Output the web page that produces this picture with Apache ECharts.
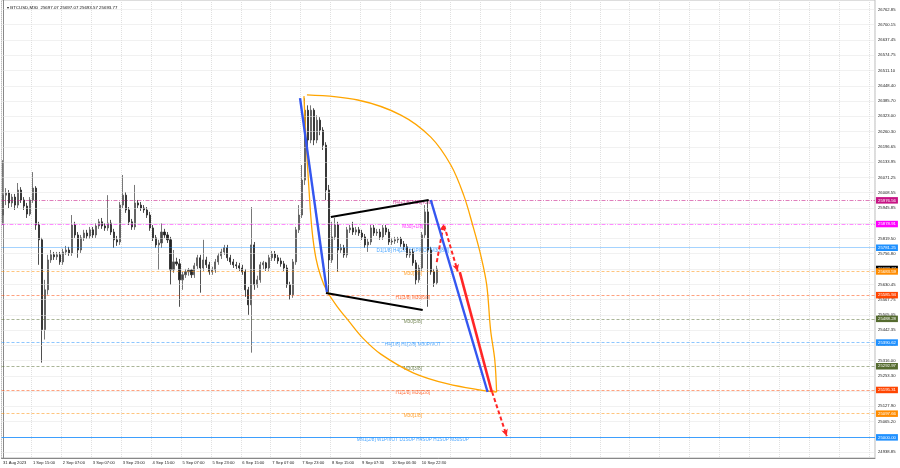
<!DOCTYPE html>
<html><head><meta charset="utf-8">
<script src="https://cdn.jsdelivr.net/npm/echarts@6/dist/echarts.min.js"></script>
<style>html,body{margin:0;padding:0;background:#fff}#c{width:900px;height:468px}</style>
</head><body><div id="c"></div>
<script>
// ---------------- DATA ----------------
const titleText = 'BTCUSD,M30  25697.07 25697.07 25693.57 25693.77';
const xLabels = ['31 Aug 2023','1 Sep 15:00','2 Sep 07:00','3 Sep 07:00','3 Sep 23:00','4 Sep 15:00','5 Sep 07:00','5 Sep 23:00','6 Sep 15:00','7 Sep 07:00','7 Sep 23:00','8 Sep 15:00','9 Sep 07:30','10 Sep 06:30','10 Sep 22:30'];
const yTicks = [26762.85,26700.15,26637.45,26574.75,26511.10,26448.40,26385.70,26323.00,26260.30,26196.65,26133.95,26071.25,26008.55,25945.85,25882.20,25819.50,25756.80,25694.10,25630.45,25567.75,25505.05,25442.35,25379.65,25316.00,25253.30,25190.60,25127.90,25065.20,25002.50,24938.85];

const candleOpen = [
25916,25998,26007,25966,25990,25957,26019,25978,25953,25920,
25978,26027,25875,25814,25444,25608,25731,25752,25744,25752,
25723,25764,25772,25760,25875,25834,25772,25822,25842,25830,
25855,25834,25871,25888,25871,25863,25883,25846,25814,25805,
25957,25998,25937,25888,25867,25966,25957,25945,25937,25916,
25863,25822,25793,25801,25846,25834,25814,25690,25723,25715,
25649,25670,25682,25690,25670,25707,25740,25698,25731,25711,
25682,25690,25723,25748,25764,25781,25740,25723,25711,25707,
25698,25682,25608,25546,25793,25629,25649,25711,25719,25698,
25740,25756,25740,25727,25715,25698,25629,25588,25723,25855,
25916,26060,26348,26225,26348,26225,26307,26266,26204,26019,
25731,25826,25875,25772,25781,25752,25855,25863,25846,25855,
25842,25826,25793,25805,25863,25842,25846,25826,25863,25846,
25805,25809,25814,25818,25797,25785,25752,25764,25719,25649,
25698,25834,25929,25772,25682,25637];
const candleClose = [
25998,26007,25966,25990,25957,26019,25978,25953,25920,25978,
26027,25875,25814,25444,25608,25731,25752,25744,25752,25723,
25764,25772,25760,25875,25834,25772,25822,25842,25830,25855,
25834,25871,25888,25871,25863,25883,25846,25814,25805,25957,
25998,25937,25888,25867,25966,25957,25945,25937,25916,25863,
25822,25793,25801,25846,25834,25814,25690,25723,25715,25649,
25670,25682,25690,25670,25707,25740,25698,25731,25711,25682,
25690,25723,25748,25764,25781,25740,25723,25711,25707,25698,
25682,25608,25546,25793,25629,25649,25711,25719,25698,25740,
25756,25740,25727,25715,25698,25629,25588,25723,25855,25916,
26060,26348,26225,26348,26225,26307,26266,26204,26019,25731,
25826,25875,25772,25781,25752,25855,25863,25846,25855,25842,
25826,25793,25805,25863,25842,25846,25826,25863,25846,25805,
25809,25814,25818,25797,25785,25752,25764,25719,25649,25698,
25834,25929,25772,25682,25637,25693.77];
const candleLow = [
25875,25957,25945,25949,25937,25945,25966,25937,25904,25912,
25966,25855,25711,25308,25403,25588,25719,25731,25731,25711,
25711,25752,25748,25748,25822,25740,25760,25809,25818,25818,
25822,25822,25859,25859,25851,25851,25834,25781,25789,25793,
25945,25925,25875,25855,25855,25945,25933,25925,25904,25851,
25809,25781,25690,25781,25822,25801,25629,25678,25707,25538,
25608,25657,25666,25657,25657,25694,25596,25686,25698,25670,
25670,25678,25711,25735,25752,25727,25711,25698,25694,25686,
25670,25579,25505,25349,25608,25616,25637,25694,25686,25686,
25727,25727,25715,25703,25686,25616,25567,25575,25711,25842,
25904,26040,26184,26212,26204,26212,26245,26184,25978,25596,
25719,25814,25682,25760,25740,25740,25842,25834,25834,25830,
25814,25781,25764,25793,25830,25830,25814,25814,25834,25793,
25793,25797,25801,25785,25772,25740,25740,25707,25629,25637,
25686,25822,25538,25670,25620,25629];
const candleHigh = [
26142,26027,26019,26003,26003,26048,26031,25990,25966,25990,
26093,26035,25888,25822,25649,25752,25772,25764,25764,25764,
25777,25789,25785,25916,25888,25846,25834,25855,25855,25867,
25867,25883,25900,25904,25883,25998,25896,25859,25830,25970,
26081,26011,25949,25900,26040,25978,25970,25957,25949,25929,
25875,25834,25814,25883,25859,25846,25826,25772,25740,25735,
25682,25694,25698,25694,25719,25752,25752,25814,25744,25723,
25703,25735,25760,25777,25793,25793,25752,25735,25723,25719,
25711,25694,25620,25949,25805,25666,25723,25727,25723,25752,
25768,25768,25752,25740,25727,25711,25641,25735,25867,25957,
26122,26397,26368,26368,26356,26327,26319,26278,26216,26040,
25888,25904,25888,25797,25793,25867,25875,25888,25867,25867,
25855,25838,25818,25875,25875,25859,25859,25875,25875,25859,
25822,25826,25826,25826,25809,25797,25777,25777,25731,25711,
25846,25957,25978,25785,25694,25707];

const currentPrice = 25693.77;
const levelValues = [25976.56,25878.91,25781.25,25683.59,25585.94,25488.28,25390.62,25292.97,25195.31,25097.66,25000.00];
const levelCaptions = ['H4[+1/8] M30[+2/8]','M30[+1/8]','D1[1/8] H4[2/8] H1PIVOT M30[8/8]','M30[7/8]','H1[3/8] M30[6/8]','M30[5/8]','H4[1/8] H1[2/8] M30PIVOT','M30[3/8]','H1[1/8] M30[2/8]','M30[1/8]','MN1[2/8] W1PIVOT D1SUP H4SUP H1SUP M30SUP'];

// drawing anchor points: [bar index, price]
const arcUpper = [[101.6,26411],[118.6,26390],[133.0,26328],[143.0,26237],[149.7,26122],[154.0,25998],[157.0,25875],[159.7,25751],[161.7,25628],[163.0,25442],[164.4,25319],[165.0,25187]];
const arcLower = [[100.6,26406],[101.3,26225],[102.3,26019],[103.3,25854],[104.6,25739],[106.3,25661],[108.3,25603],[111.6,25541],[115.6,25479],[120.3,25409],[126.3,25343],[137.3,25265],[148.7,25220],[159.7,25195],[165.0,25187]];
const blueLine1 = [[99.3,26398],[108.3,25599]];
const blueLine2 = [[143.0,25978],[162.0,25187]];
const channelTop = [[109.6,25908],[142.3,25978]];
const channelBottom = [[107.96,25595],[140.3,25525]];
const redLine = [[152.7,25681],[163.4,25187]];
const arrowUp = [[145.0,25722],[147.3,25878]];
const arrowDown = [[147.5,25872],[152.0,25684]];
const arrowTarget = [[163.5,25187],[168.4,25005]];

// ---------------- STYLE / LAYOUT ----------------
const N_SLOTS = 292;
const Y_MAX = 26802, Y_MIN = 24915;
const CAPTION_AT = 137;
const FONT = 'Liberation Sans';
const LEVEL_STYLE = [
  {c:'#c71585', l:'rgba(199,21,133,0.55)', t:[4,1.5,1,1.5], w:1},
  {c:'#ff00ff', l:'rgba(255,0,255,0.45)', t:[4,1.5,1,1.5], w:1},
  {c:'#1e90ff', l:'rgba(30,144,255,0.4)', t:'solid', w:1},
  {c:'#ff8c00', l:'rgba(255,140,0,0.5)', t:[3,2], w:1},
  {c:'#ff4500', l:'rgba(255,69,0,0.5)', t:[3,2], w:1},
  {c:'#556b2f', l:'rgba(85,107,47,0.5)', t:[3,2], w:1},
  {c:'#1e90ff', l:'rgba(30,144,255,0.5)', t:[3,2], w:1},
  {c:'#556b2f', l:'rgba(85,107,47,0.5)', t:[3,2], w:1},
  {c:'#ff4500', l:'rgba(255,69,0,0.5)', t:[3,2], w:1},
  {c:'#ff8c00', l:'rgba(255,140,0,0.5)', t:[3,2], w:1},
  {c:'#1e90ff', l:'rgba(30,144,255,0.85)', t:'solid', w:1.2}
];

const cats = Array.from({length: N_SLOTS}, (_, i) => String(i));
const candles = candleOpen.map((o, i) => [o, candleClose[i], candleLow[i], candleHigh[i]]);

const boxLabel = (bg) => ({show:true, position:'end', distance:1, color:'#fff', backgroundColor:bg, fontSize:4.3, fontFamily:FONT, padding:[1.5,2,1,2]});

const levelMarks = levelValues.map((v, i) => ({
  yAxis: v,
  lineStyle: {color: LEVEL_STYLE[i].l, type: LEVEL_STYLE[i].t, width: LEVEL_STYLE[i].w},
  label: Object.assign(boxLabel(LEVEL_STYLE[i].c), {formatter: v.toFixed(2)})
}));

const lineSeries = (data, color, width, extra) => Object.assign({
  type:'line', xAxisIndex:1, data, symbol:'none', silent:true, z:5,
  lineStyle:{color, width}
}, extra || {});

const arrowMark = (pts) => [{coord: pts[0]}, {coord: pts[1]}];

const option = {
  animation: false,
  backgroundColor: '#ffffff',
  textStyle: {fontFamily: FONT},
  title: {text: '\u25BE ' + titleText, left: 2, top: 1, textStyle: {fontSize: 4.4, fontWeight: 'normal', color: '#111', fontFamily: FONT}},
  grid: {left: 0, right: 25, top: 0, bottom: 10, show: true, borderColor: '#bbb', borderWidth: 1},
  xAxis: [
    {type:'category', data: cats, boundaryGap: true,
     axisLine:{lineStyle:{color:'#888'}}, axisTick:{show:false},
     axisLabel:{interval:(i) => i % 10 === 0 && i / 10 < xLabels.length,
       formatter:(v) => xLabels[Number(v) / 10] || '', align:'left', fontSize:4.1, margin:3, color:'#222', fontFamily:FONT},
     splitLine:{show:true, interval:(i) => i % 10 === 0, lineStyle:{color:'#e0e0e0', type:[1,1], width:1}}},
    {type:'value', min:-0.5, max:N_SLOTS - 0.5, show:false}
  ],
  yAxis: {type:'value', position:'right', min:Y_MIN, max:Y_MAX,
    splitLine:{show:false}, axisTick:{show:false},
    axisLine:{show:true, lineStyle:{color:'#888'}},
    axisLabel:{customValues: yTicks, formatter:(v) => v.toFixed(2), fontSize:4.2, margin:3, color:'#222', fontFamily:FONT}},
  series: [
    {type:'line', xAxisIndex:1, data:[], silent:true, z:0,
     markLine:{silent:true, symbol:'none', animation:false, label:{show:false},
       lineStyle:{color:'#e2e2e2', type:[1,1], width:1},
       data: yTicks.map(v => ({yAxis: v}))}},
    {type:'line', xAxisIndex:1, data:[], silent:true, z:1,
     markLine:{silent:true, symbol:'none', animation:false,
       data: [{yAxis: currentPrice, lineStyle:{color:'rgba(0,0,0,0)'}, label: Object.assign(boxLabel('#000'), {formatter: currentPrice.toFixed(2)})}]}},
    {type:'line', xAxisIndex:1, data:[], silent:true, z:1,
     markLine:{silent:true, symbol:'none', animation:false, data: levelMarks}},
    {type:'scatter', xAxisIndex:1, silent:true, z:1, symbolSize:0,
     data: levelValues.map((v, i) => ({value:[CAPTION_AT, v],
       label:{show:true, position:'bottom', distance:0, formatter: levelCaptions[i], color: LEVEL_STYLE[i].c, fontSize:4.7, fontFamily:FONT}}))},
    {type:'candlestick', xAxisIndex:0, data: candles, barWidth:1.6, z:3, silent:true,
     itemStyle:{color:'#444', color0:'#222', borderColor:'#555', borderColor0:'#222', borderWidth:0.8}},
    lineSeries(arcUpper, '#ffa500', 1.3, {smooth:0.35}),
    lineSeries(arcLower, '#ffa500', 1.3, {smooth:0.35}),
    lineSeries(channelTop, '#000000', 2),
    lineSeries(channelBottom, '#000000', 2),
    lineSeries(blueLine1, '#3456f0', 2.4),
    lineSeries(blueLine2, '#3456f0', 2.4),
    lineSeries(redLine, '#ff2626', 2.6),
    {type:'line', xAxisIndex:1, data:[], silent:true, z:6,
     markLine:{silent:true, animation:false, symbol:['none','arrow'], symbolSize:[5,7], label:{show:false},
       lineStyle:{color:'#ff2626', type:[4,2.5], width:2},
       data:[arrowMark(arrowUp), arrowMark(arrowDown), arrowMark(arrowTarget)]}}
  ]
};
const chart = echarts.init(document.getElementById('c'));
chart.setOption(option);
</script>
</body></html>
